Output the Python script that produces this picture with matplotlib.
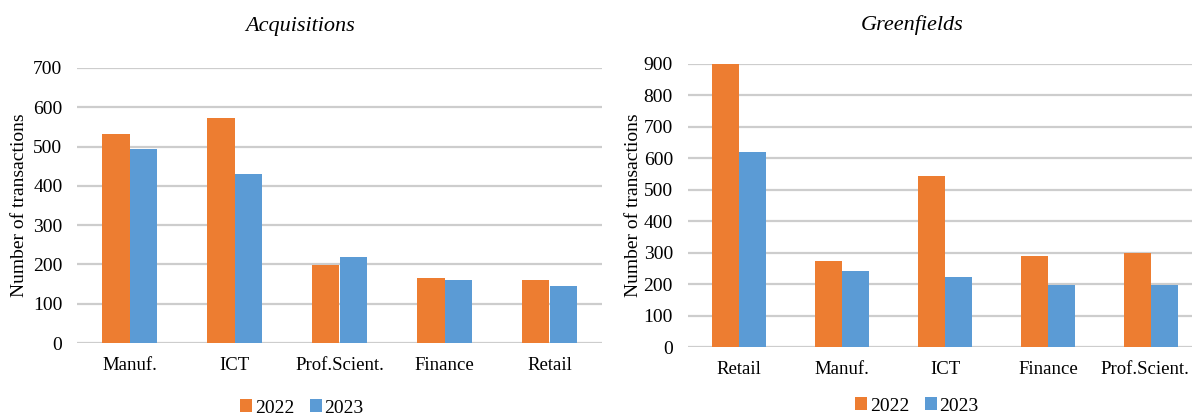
import numpy as np
import matplotlib
matplotlib.use("Agg")
import matplotlib.pyplot as plt
from matplotlib.transforms import ScaledTranslation

# data
acq_sectors = ["Manuf.", "ICT", "Prof.Scient.", "Finance", "Retail"]
acq_2022 = [533, 573, 198, 165, 160]
acq_2023 = [495, 430, 220, 160, 146]

green_sectors = ["Retail", "Manuf.", "ICT", "Finance", "Prof.Scient."]
green_2022 = [900, 272, 545, 288, 300]
green_2023 = [620, 243, 222, 197, 197]

years = ["2022", "2023"]
c22 = "#ED7D31"
c23 = "#5B9BD5"

plt.rcParams["font.family"] = ["Liberation Serif", "DejaVu Serif"]

W, H = 1192, 418
fig = plt.figure(figsize=(W / 100, H / 100), dpi=100)


def draw(ax, sectors, v22, v23, ymax, step, ylab_x):
    x = np.arange(len(sectors))
    w = 0.265
    b1 = ax.bar(x - w / 2, v22, w, color=c22, zorder=3, label=years[0])
    b2 = ax.bar(x + w / 2, v23, w, color=c23, zorder=3, label=years[1])
    ax.set_xlim(-0.5, len(sectors) - 0.5)
    ax.set_ylim(0, ymax)
    ax.set_yticks(np.arange(0, ymax + 1, step))
    ax.set_xticks(x)
    ax.set_xticklabels(sectors, fontsize=13.5)
    ax.tick_params(axis="y", labelsize=14, length=0, pad=10.5)
    ax.tick_params(axis="x", length=0, pad=10)
    ax.grid(axis="y", color="#CDCDCD", linewidth=1.6, zorder=0)
    for s in ax.spines.values():
        s.set_visible(False)
    ax.set_ylabel("Number of transactions", fontsize=14)
    ax.yaxis.set_label_coords(ylab_x, 0.5)
    ax.set_facecolor("none")
    return b1, b2


ax1 = fig.add_axes([77 / W, 75 / H, 525 / W, 275 / H])
h = draw(ax1, acq_sectors, acq_2022, acq_2023, 700, 100, (28 - 77) / 525)
fig.text(300 / W, 1 - 27 / H, "Acquisitions", ha="center", va="center",
         fontsize=16, style="italic")
fig.legend(h, years, loc="center", bbox_to_anchor=(302 / W, 1 - 408 / H),
           ncol=2, frameon=False, fontsize=14, handlelength=0.6,
           handleheight=0.6, handletextpad=0.15, columnspacing=0.8)

ax2 = fig.add_axes([687.5 / W, 71 / H, 515 / W, 283 / H])
h = draw(ax2, green_sectors, green_2022, green_2023, 900, 100, (642 - 687.5) / 515)
fig.text(912 / W, 1 - 25 / H, "Greenfields", ha="center", va="center",
         fontsize=16, style="italic")
fig.legend(h, years, loc="center", bbox_to_anchor=(917 / W, 1 - 406 / H),
           ncol=2, frameon=False, fontsize=14, handlelength=0.6,
           handleheight=0.6, handletextpad=0.15, columnspacing=0.8)

# the last label touches the right edge in the reference; nudge it inside
lab = ax2.get_xticklabels()[-1]
lab.set_transform(lab.get_transform() + ScaledTranslation(-6 / 100, 0, fig.dpi_scale_trans))

fig.savefig("out.png", dpi=100)
